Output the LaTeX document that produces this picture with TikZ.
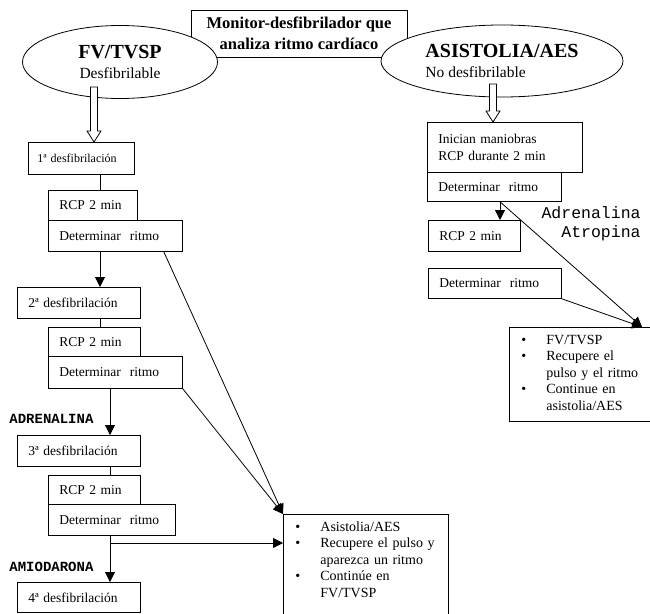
\documentclass[tikz,border=0pt]{standalone}
\usepackage{fontspec}
\setmainfont{Liberation Serif}
\setmonofont{Liberation Mono}
\usepackage{tikz}
\usetikzlibrary{shapes,arrows.meta,calc}
\tikzstyle{block} = [draw, rectangle, anchor=north west, inner xsep=11pt, inner ysep=0pt, align=left, font=\fontsize{13.5}{16.5}\selectfont]
\tikzstyle{rhythm} = [draw, ellipse, fill=white, inner sep=0pt, align=center, font=\fontsize{15.5}{20}\selectfont]
\tikzstyle{header} = [draw, rectangle, align=center, minimum width=216pt, minimum height=47pt, font=\fontsize{16.5}{21}\selectfont\bfseries]
\tikzstyle{outcome} = [draw, rectangle, anchor=north west, inner xsep=0pt, inner ysep=5.5pt, align=left, font=\fontsize{14}{16.5}\selectfont]
\tikzstyle{drug} = [inner sep=0pt]
\newcommand*{\hollowarrow}[2]{%
  \draw[fill=white] let \p1=(#1), \p2=(#2) in
    (\x1-3.5pt,\y1) -- (\x1-3.5pt,\y2+11pt) -- (\x1-7pt,\y2+11pt) -- (\x1,\y2)
    -- (\x1+7pt,\y2+11pt) -- (\x1+3.5pt,\y2+11pt) -- (\x1+3.5pt,\y1) -- cycle;}

\begin{document}
\begin{tikzpicture}[x=1pt, y=-1pt, line width=0.8pt, >={Triangle[length=10pt,width=10pt]}]
    \useasboundingbox (0,0) rectangle (650,613);
    \clip (0,0) rectangle (650,613);
    % header and the two rhythms
    \node [header] (monitor) at (299,33.5) {Monitor-desfibrilador que\\analiza ritmo cardíaco};
    \node [rhythm, minimum width=195pt, minimum height=73pt] (fv) at (120,62)
      {{\fontsize{20}{20}\selectfont\bfseries FV/TVSP}\\Desfibrilable};
    \node [rhythm, minimum width=242pt, minimum height=72pt, align=left] (asis) at (502,61)
      {{\fontsize{20}{20}\selectfont\bfseries ASISTOLIA/AES}\\No desfibrilable};
    % left branch
    \node [block, inner xsep=9pt, text width=88pt, minimum height=32pt, font=\fontsize{12}{14}\selectfont] (d1) at (28,142) {1ª desfibrilación};
    \node [block, text width=67pt, minimum height=30pt] (rcp1) at (48,190) {RCP 2 min};
    \node [block, text width=112pt, minimum height=31pt] (det1) at (48,220) {Determinar\ \ ritmo};
    \node [block, text width=101pt, minimum height=31pt] (d2) at (17,287) {2ª desfibrilación};
    \node [block, text width=70pt, minimum height=29pt] (rcp2) at (48,327) {RCP 2 min};
    \node [block, text width=112pt, minimum height=32pt] (det2) at (48,356) {Determinar\ \ ritmo};
    \node [block, text width=101pt, minimum height=31pt] (d3) at (17,435) {3ª desfibrilación};
    \node [block, text width=70pt, minimum height=29pt] (rcp3) at (48,475) {RCP 2 min};
    \node [block, text width=105pt, minimum height=31pt] (det3) at (48,504) {Determinar\ \ ritmo};
    \node [block, text width=101pt, minimum height=30pt] (d4) at (17,582) {4ª desfibrilación};
    \node [drug, anchor=west, font=\ttfamily\bfseries\fontsize{14}{16}\selectfont] (adren) at (9,419) {ADRENALINA};
    \node [drug, anchor=west, font=\ttfamily\bfseries\fontsize{14}{16}\selectfont] (amio) at (9,567) {AMIODARONA};
    \node [outcome, text width=165pt] (outl) at (283,514)
      {\begin{tabular}{@{\hspace{12pt}}p{25pt}@{}l@{}}
        • & Asistolia/AES\\
        • & Recupere el pulso y\\
          & aparezca un ritmo\\
        • & Continúe en\\
          & FV/TVSP\\[24pt]
      \end{tabular}};
    % right branch
    \node [block, text width=133pt, minimum height=50pt] (ini) at (427,122) {Inician maniobras\\RCP durante 2 min};
    \node [block, text width=112pt, minimum height=29pt] (detr1) at (427,172) {Determinar\ \ ritmo};
    \node [block, text width=70pt, minimum height=31pt] (rcpr) at (428,220) {RCP 2 min};
    \node [block, text width=111pt, minimum height=30pt] (detr2) at (428,268) {Determinar\ \ ritmo};
    \node [drug, anchor=north east, align=right, font=\ttfamily\fontsize{16.5}{19}\selectfont] (atrop) at (641,206) {Adrenalina\\Atropina};
    \node [outcome, text width=140.5pt, minimum height=92pt] (outr) at (509,327)
      {\begin{tabular}{@{\hspace{12pt}}p{25pt}@{}l@{}}
        • & FV/TVSP\\
        • & Recupere el\\
          & pulso y el ritmo\\
        • & Continue en\\
          & asistolia/AES
      \end{tabular}};
    % connectors
    \coordinate (stemA) at (100,0);
    \coordinate (stemB) at (110,0);
    \coordinate (stemR) at (500,0);
    \coordinate (fvout) at (94,87);
    \coordinate (asisout) at (493,84);
    \coordinate (split) at (110,543);
    \coordinate (hub) at (642,327);
    \hollowarrow{fvout}{d1.north -| fvout}
    \hollowarrow{asisout}{ini.north -| asisout}
    \draw (d1.south -| stemA) -- (rcp1.north -| stemA);
    \draw [->] (det1.south -| stemA) -- (d2.north -| stemA);
    \draw (d2.south -| stemA) -- (rcp2.north -| stemA);
    \draw [->] (det2.south -| stemB) -- (d3.north -| stemB);
    \draw (d3.south -| stemB) -- (rcp3.north -| stemB);
    \draw [->] (det3.south -| stemB) -- (d4.north -| stemB);
    \draw [->] (split) -- (split -| outl.west);
    \draw [->] ($(det1.south east)+(-19,0)$) -- (outl.north west);
    \draw [->] (det2.south east) -- (outl.north west);
    \draw [->] (detr1.south -| stemR) -- (rcpr.north -| stemR);
    \draw [->] (detr1.south -| stemR) -- (hub);
    \draw [->] (detr2.south east) -- (hub);
\end{tikzpicture}
\end{document}
